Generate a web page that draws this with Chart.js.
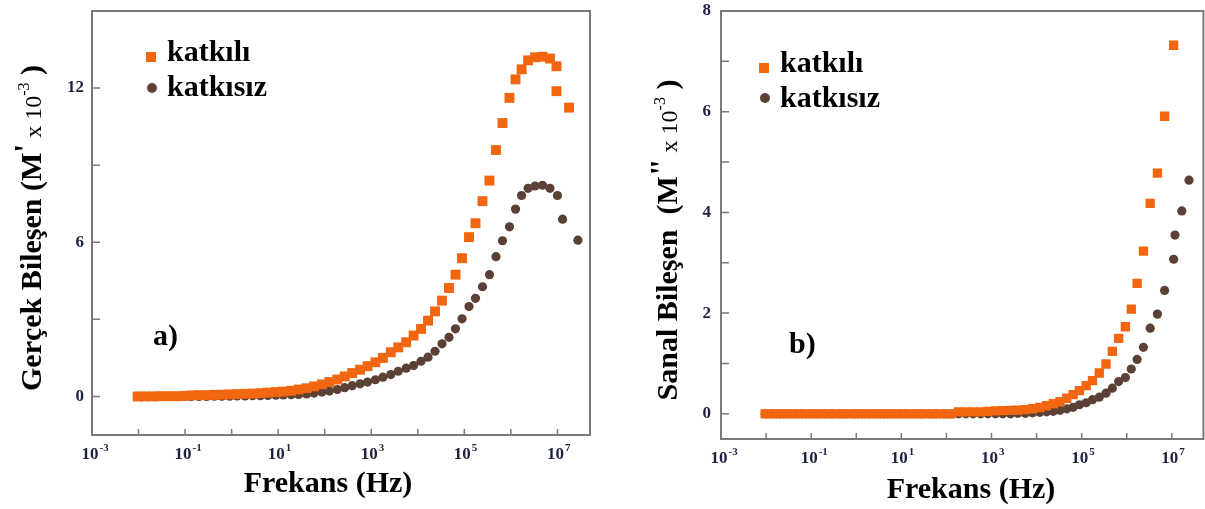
<!DOCTYPE html>
<html>
<head>
<meta charset="utf-8">
<script src="https://cdn.jsdelivr.net/npm/chart.js@4.4.1/dist/chart.umd.min.js"></script>
<style>
  body { margin: 0; background: #fff; width: 1205px; height: 509px; overflow: hidden; position: relative; }
  canvas { position: absolute; top: 0; }
  #chartA { left: 0; }
  #chartB { left: 600px; }
</style>
</head>
<body>
<canvas id="chartA" width="600" height="509"></canvas>
<canvas id="chartB" width="610" height="509"></canvas>
<script>
// log10 of the sweep frequency (Hz), same sweep for both panels
const freqExp = [
  -2.02, -1.86, -1.69, -1.53, -1.36, -1.20, -1.03, -0.87, -0.70, -0.54,
  -0.37, -0.21, -0.04, 0.12, 0.29, 0.45, 0.62, 0.78, 0.95, 1.11,
  1.28, 1.44, 1.61, 1.77, 1.94, 2.10, 2.27, 2.43, 2.59, 2.76,
  2.92, 3.09, 3.25, 3.42, 3.58, 3.75, 3.91, 4.07, 4.22, 4.37,
  4.52, 4.67, 4.81, 4.95, 5.10, 5.24, 5.39, 5.54, 5.68, 5.82,
  5.97, 6.10, 6.23, 6.37, 6.52, 6.68, 6.84
];

// a) real part M' (x10^-3)
const realDoped = [
  0.00, 0.00, 0.00, 0.01, 0.01, 0.01, 0.02, 0.04, 0.05, 0.05,
  0.06, 0.07, 0.08, 0.09, 0.10, 0.11, 0.13, 0.15, 0.17, 0.19,
  0.22, 0.27, 0.32, 0.39, 0.47, 0.56, 0.66, 0.78, 0.91, 1.04,
  1.18, 1.33, 1.50, 1.72, 1.91, 2.11, 2.37, 2.63, 2.95, 3.31,
  3.73, 4.22, 4.74, 5.38, 6.20, 6.74, 7.60, 8.40, 9.59, 10.64,
  11.62, 12.34, 12.73, 13.08, 13.20, 13.22, 13.15
];
const realUndoped = [
  0.00, 0.00, 0.00, 0.00, 0.00, 0.00, 0.00, 0.00, 0.00, 0.00,
  0.01, 0.01, 0.01, 0.02, 0.02, 0.03, 0.03, 0.04, 0.05, 0.06,
  0.07, 0.08, 0.10, 0.13, 0.17, 0.21, 0.27, 0.34, 0.42, 0.49,
  0.56, 0.65, 0.75, 0.85, 0.98, 1.10, 1.20, 1.37, 1.53, 1.76,
  2.05, 2.30, 2.63, 3.02, 3.50, 3.82, 4.27, 4.74, 5.44, 6.06,
  6.60, 7.29, 7.82, 8.10, 8.19, 8.22, 8.10
];
// points past the end of the sweep
const realDopedTailExp = [6.98, 6.98, 7.25];
const realDopedTail = [12.85, 11.88, 11.24];
const realUndopedTailExp = [7.00, 7.11, 7.44];
const realUndopedTail = [7.82, 6.90, 6.08];

// b) imaginary part M'' (x10^-3)
const imagDoped = [
  0.00, 0.00, 0.00, 0.00, 0.00, 0.00, 0.00, 0.00, 0.00, 0.00,
  0.00, 0.00, 0.00, 0.00, 0.00, 0.00, 0.00, 0.00, 0.00, 0.00,
  0.00, 0.00, 0.00, 0.00, 0.00, 0.00, 0.04, 0.04, 0.04, 0.04,
  0.05, 0.06, 0.065, 0.07, 0.075, 0.085, 0.10, 0.125, 0.16, 0.20,
  0.24, 0.31, 0.38, 0.46, 0.56, 0.66, 0.81, 0.99, 1.24, 1.50,
  1.73, 2.08, 2.59, 3.23, 4.18, 4.78, 5.91
];
const imagUndoped = [
  0.00, 0.00, 0.00, 0.00, 0.00, 0.00, 0.00, 0.00, 0.00, 0.00,
  0.00, 0.00, 0.00, 0.00, 0.00, 0.00, 0.00, 0.00, 0.00, 0.00,
  0.00, 0.00, 0.00, 0.00, 0.00, 0.00, 0.00, 0.00, 0.00, 0.00,
  0.00, 0.00, 0.00, 0.00, 0.01, 0.01, 0.02, 0.03, 0.04, 0.05,
  0.07, 0.10, 0.13, 0.18, 0.22, 0.28, 0.33, 0.41, 0.51, 0.64,
  0.72, 0.89, 1.08, 1.32, 1.70, 1.98, 2.45
];
const imagDopedTailExp = [7.04];
const imagDopedTail = [7.32];
const imagUndopedTailExp = [7.04, 7.07, 7.22, 7.38];
const imagUndopedTail = [3.07, 3.55, 4.03, 4.64];

// axis ticks
const xTickExp = [-2, -1, 0, 1, 2, 3, 4, 5, 6, 7];
const xLabelExp = [-3, -1, 1, 3, 5, 7];
const yTicksA = [0, 3, 6, 9, 12];
const yLabelsA = [0, 6, 12];
const yTicksB = [0, 1, 2, 3, 4, 5, 6, 7, 8];
const yLabelsB = [0, 2, 4, 6, 8];

const seriesNames = ["katkılı", "katkısız"];

const ORANGE = "#f2660f";
const BROWN = "#5b4036";
const FRAME = "#7a7a7a";
const TICK_TEXT = "#1d2140";
const SERIF = '"Liberation Serif", "Times New Roman", serif';

function toPoints(xs, ys, tailX, tailY) {
  const pts = xs.map((x, i) => ({ x: x, y: ys[i] }));
  tailX.forEach((x, i) => pts.push({ x: x, y: tailY[i] }));
  return pts;
}

function font(size, weight) {
  return `${weight || "bold"} ${size}px ${SERIF}`;
}

// draw a row of text pieces (for superscripts), centred on x
function drawRuns(ctx, runs, x, y) {
  let total = 0;
  runs.forEach(r => {
    ctx.font = font(r.size, r.weight);
    total += ctx.measureText(r.t).width;
  });
  let cx = x - total / 2;
  ctx.textAlign = "left";
  ctx.textBaseline = "alphabetic";
  runs.forEach(r => {
    ctx.font = font(r.size, r.weight);
    ctx.fillText(r.t, cx, y + (r.dy || 0));
    cx += ctx.measureText(r.t).width;
  });
}

function paperPlugin(cfg) {
  return {
    id: "paper",
    afterDraw(chart) {
      const ctx = chart.ctx;
      const a = chart.chartArea;
      const xs = chart.scales.x;
      const ys = chart.scales.y;
      ctx.save();

      // frame
      ctx.strokeStyle = FRAME;
      ctx.lineWidth = 2;
      ctx.strokeRect(a.left, a.top, a.right - a.left, a.bottom - a.top);

      // inward ticks
      ctx.lineWidth = 1.5;
      ctx.beginPath();
      xTickExp.forEach(v => {
        const px = xs.getPixelForValue(v);
        ctx.moveTo(px, a.bottom);
        ctx.lineTo(px, a.bottom - 6);
      });
      cfg.yTicks.forEach(v => {
        const py = ys.getPixelForValue(v);
        ctx.moveTo(a.left, py);
        ctx.lineTo(a.left + 8, py);
      });
      ctx.stroke();

      // y tick labels
      ctx.fillStyle = TICK_TEXT;
      ctx.textAlign = "right";
      ctx.textBaseline = "middle";
      ctx.font = font(cfg.yTickSize);
      cfg.yLabels.forEach(v => {
        ctx.fillText(String(v), cfg.yLabelRight, ys.getPixelForValue(v));
      });

      // x tick labels 10^n
      ctx.textAlign = "left";
      ctx.textBaseline = "alphabetic";
      xLabelExp.forEach(e => {
        const px = xs.getPixelForValue(e);
        ctx.font = font(17);
        const w = ctx.measureText("10").width;
        const x0 = px - w / 2 - 2;
        ctx.fillText("10", x0, cfg.xLabelBase);
        ctx.font = font(11);
        ctx.fillText(String(e), x0 + w + 1, cfg.xLabelBase - 8);
      });

      // axis titles
      ctx.fillStyle = "#000";
      ctx.font = font(30);
      ctx.textAlign = "center";
      ctx.textBaseline = "middle";
      ctx.fillText("Frekans (Hz)", cfg.xTitle[0], cfg.xTitle[1]);

      ctx.save();
      ctx.translate(cfg.yTitle[0], cfg.yTitle[1]);
      ctx.rotate(-Math.PI / 2);
      drawRuns(ctx, cfg.yTitleRuns, 0, 0);
      ctx.restore();

      // legend
      const lg = cfg.legend;
      ctx.fillStyle = ORANGE;
      ctx.fillRect(lg.mx - 5, lg.y1 - 5, 10, 10);
      ctx.fillStyle = BROWN;
      ctx.beginPath();
      ctx.arc(lg.mx + 1, lg.y2, 5, 0, Math.PI * 2);
      ctx.fill();
      ctx.fillStyle = "#000";
      ctx.font = font(30);
      ctx.textAlign = "left";
      ctx.textBaseline = "middle";
      ctx.fillText(seriesNames[0], lg.tx, lg.t1);
      ctx.fillText(seriesNames[1], lg.tx, lg.t2);

      // panel tag
      ctx.fillText(cfg.tag, cfg.tagPos[0], cfg.tagPos[1]);

      ctx.restore();
    }
  };
}

function makePanel(id, doped, undoped, cfg) {
  new Chart(document.getElementById(id), {
    type: "scatter",
    data: {
      datasets: [
        {
          label: seriesNames[0],
          data: doped,
          pointStyle: "rect",
          pointRadius: cfg.rectRadius,
          backgroundColor: ORANGE,
          borderWidth: 0,
        },
        {
          label: seriesNames[1],
          data: undoped,
          pointStyle: "circle",
          pointRadius: 4.6,
          backgroundColor: BROWN,
          borderWidth: 0,
        },
      ],
    },
    options: {
      responsive: false,
      animation: false,
      devicePixelRatio: 1,
      layout: { padding: cfg.padding },
      plugins: { legend: { display: false }, tooltip: { enabled: false } },
      scales: {
        x: { type: "linear", min: -3, max: 7.7, display: false },
        y: { type: "linear", min: cfg.yMin, max: cfg.yMax, display: false },
      },
    },
    plugins: [paperPlugin(cfg)],
  });
}

makePanel(
  "chartA",
  toPoints(freqExp, realDoped, realDopedTailExp, realDopedTail),
  toPoints(freqExp, realUndoped, realUndopedTailExp, realUndopedTail),
  {
    padding: { left: 92, top: 11, right: 10, bottom: 74 },
    yMin: -1.5, yMax: 15,
    yTicks: yTicksA, yLabels: yLabelsA,
    yTickSize: 17, yLabelRight: 84,
    xLabelBase: 459,
    xTitle: [328, 484],
    yTitle: [41, 228],
    yTitleRuns: [
      { t: "Gerçek Bileşen (M", size: 30 },
      { t: "'", size: 32, dy: -5 },
      { t: " x 10", size: 24, weight: "normal" },
      { t: "-3", size: 16, weight: "normal", dy: -12 },
      { t: " )", size: 30 },
    ],
    legend: { mx: 151, y1: 57, y2: 88, tx: 167, t1: 53, t2: 88 },
    tag: "a)", tagPos: [153, 337],
    rectRadius: 7,
  }
);

makePanel(
  "chartB",
  toPoints(freqExp, imagDoped, imagDopedTailExp, imagDopedTail),
  toPoints(freqExp, imagUndoped, imagUndopedTailExp, imagUndopedTail),
  {
    padding: { left: 121, top: 11, right: 4, bottom: 70 },
    yMin: -0.5, yMax: 8,
    yTicks: yTicksB, yLabels: yLabelsB,
    yTickSize: 17, yLabelRight: 111,
    xLabelBase: 463,
    xTitle: [371, 490],
    yTitle: [77, 240],
    yTitleRuns: [
      { t: "Sanal Bileşen  (M", size: 30 },
      { t: "\"", size: 32, dy: -5 },
      { t: " x 10", size: 24, weight: "normal" },
      { t: "-3", size: 16, weight: "normal", dy: -12 },
      { t: " )", size: 30 },
    ],
    legend: { mx: 164, y1: 68, y2: 98, tx: 180, t1: 64, t2: 99 },
    tag: "b)", tagPos: [189, 345],
    rectRadius: 6.6,
  }
);
</script>
</body>
</html>
